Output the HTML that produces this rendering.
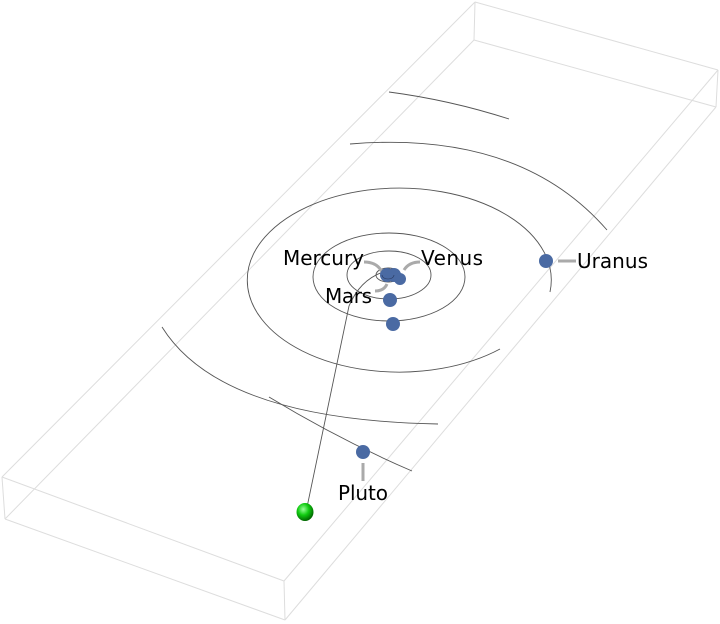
<!DOCTYPE html>
<html><head><meta charset="utf-8"><style>
html,body{margin:0;padding:0;background:#fff;width:720px;height:624px;overflow:hidden}
svg text{font-family:"DejaVu Sans","Liberation Sans",sans-serif;font-size:20px;fill:#000}
</style></head><body>
<svg width="720" height="624" viewBox="0 0 720 624" xmlns="http://www.w3.org/2000/svg">
<defs>
<radialGradient id="g" cx="40%" cy="35%" r="65%">
<stop offset="0" stop-color="#9f9"/><stop offset="0.5" stop-color="#1c1"/><stop offset="1" stop-color="#060"/>
</radialGradient>
</defs>
<g stroke="#ddd" stroke-width="1" fill="none">
<line x1="475" y1="2" x2="718" y2="70"/>
<line x1="474" y1="40" x2="716" y2="107"/>
<line x1="475" y1="2" x2="474" y2="40"/>
<line x1="718" y1="70" x2="716" y2="107"/>
<line x1="475" y1="2" x2="2" y2="477"/>
<line x1="474" y1="40" x2="5" y2="519"/>
<line x1="718" y1="70" x2="284" y2="581"/>
<line x1="716" y1="107" x2="285" y2="620"/>
<line x1="2" y1="477" x2="284" y2="581"/>
<line x1="5" y1="519" x2="285" y2="620"/>
<line x1="2" y1="477" x2="5" y2="519"/>
<line x1="284" y1="581" x2="285" y2="620"/>
</g>
<g stroke="#555" stroke-width="0.9" fill="none">
<ellipse cx="389" cy="275" rx="42" ry="24"/>
<ellipse cx="389" cy="277" rx="76" ry="44"/>
<path d="M550,292 A152,92 0 1 0 500,349"/>
<path d="M350,144 Q520,130 607,230"/>
<path d="M162,327 Q220,420 438,424"/>
<path d="M389,92 Q450,100 509,119"/>
<path d="M269,397 Q340,440 412,471"/>
<ellipse cx="388" cy="275" rx="12" ry="7"/>
<ellipse cx="389" cy="275" rx="7" ry="4"/>
<path d="M306,512 L349,306 Q360,280 383,272"/>
</g>
<g stroke="#aaa" stroke-width="3" fill="none">
<path d="M364,262 Q377,262 382,272"/>
<path d="M420,262 Q409,262 404,270"/>
<path d="M375,291 Q384,291 387,284"/>
<line x1="558" y1="261" x2="576" y2="261"/>
<line x1="363" y1="463" x2="363" y2="481"/>
</g>
<g fill="#4a6aa3">
<circle cx="387" cy="275" r="7"/>
<circle cx="394" cy="275" r="7"/>
<circle cx="400" cy="279" r="6"/>
<circle cx="390" cy="300" r="7"/>
<circle cx="393" cy="324" r="7"/>
<circle cx="546" cy="261" r="7"/>
<circle cx="363" cy="452" r="7"/>
</g>
<path d="M388,275 m-6,0 a6,4 0 1 0 12,0" stroke="#2a3a60" stroke-width="0.6" fill="none"/>
<ellipse cx="305" cy="512" rx="8.5" ry="9" fill="url(#g)"/>
<text x="283" y="265" textLength="81">Mercury</text>
<text x="421" y="265" textLength="62">Venus</text>
<text x="325" y="303" textLength="47">Mars</text>
<text x="577" y="268" textLength="71">Uranus</text>
<text x="338" y="500" textLength="50">Pluto</text>
</svg>
</body></html>
